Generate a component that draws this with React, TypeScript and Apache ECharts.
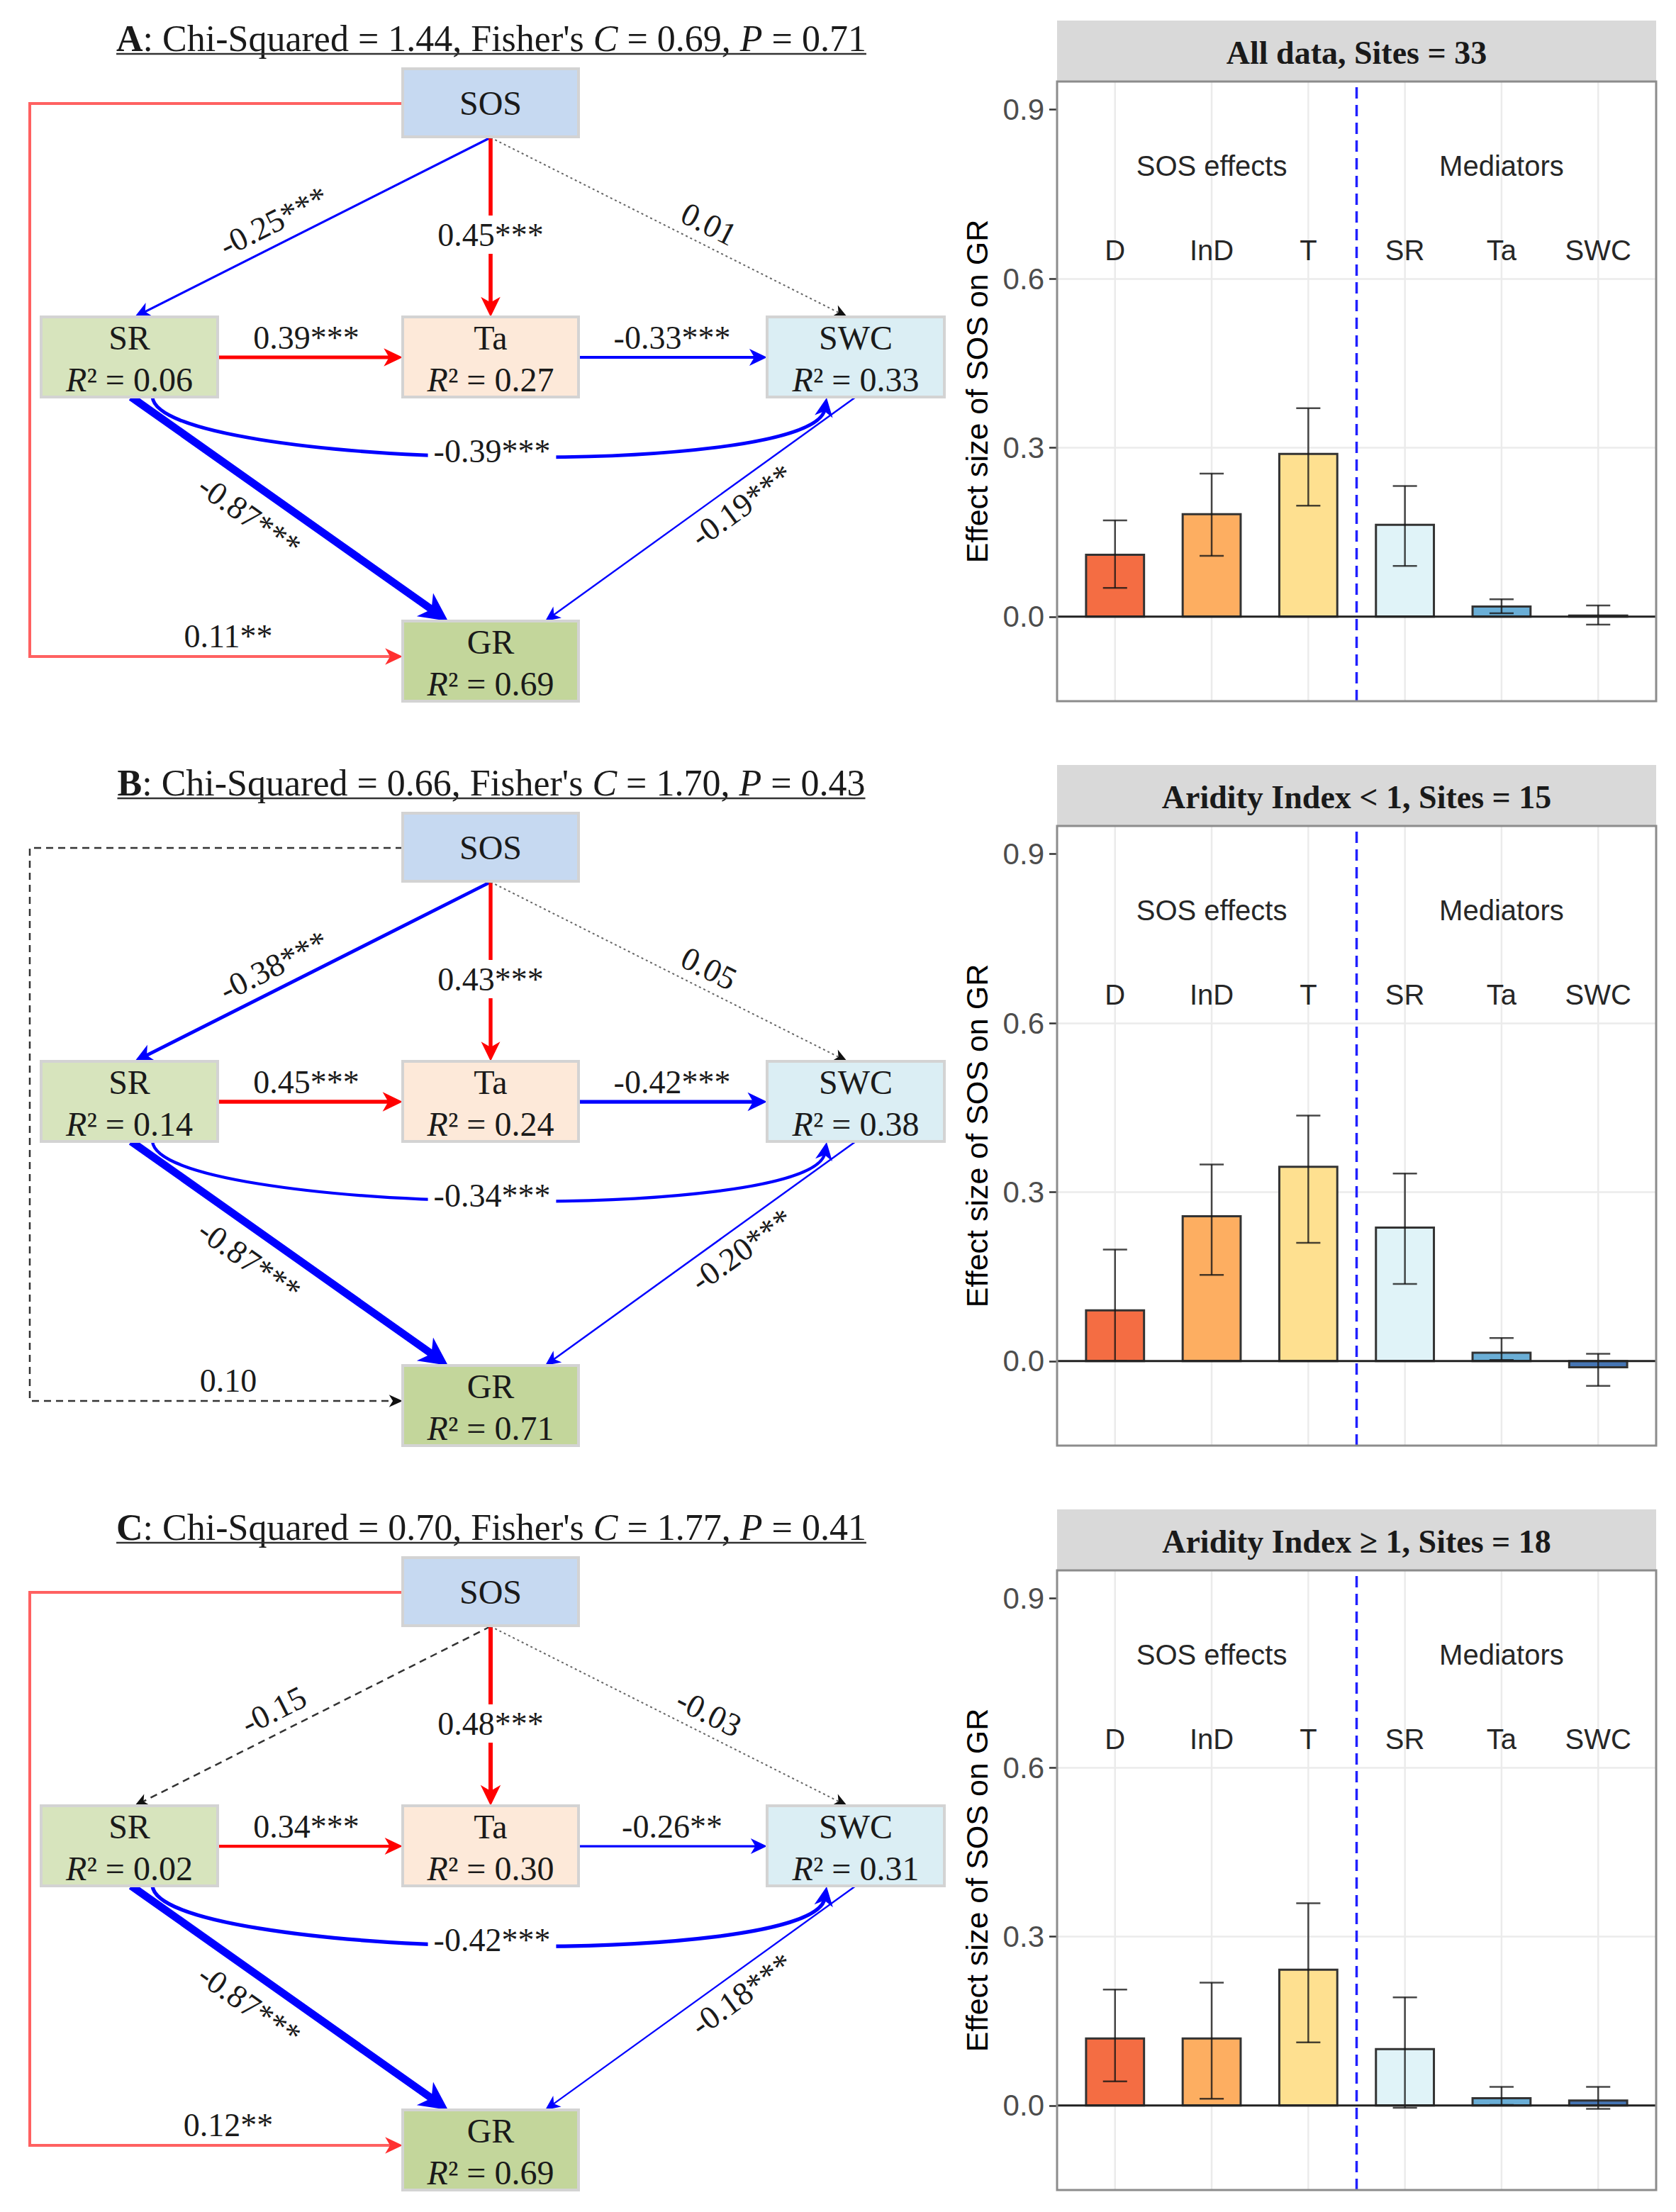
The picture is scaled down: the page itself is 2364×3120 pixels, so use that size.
import React, { useEffect, useRef } from "react";
import * as echarts from "echarts";

// ---------------- Data ----------------
const panelLetters = ["A", "B", "C"];
const chiSquared = ["1.44", "0.66", "0.70"];
const fisherC = ["0.69", "1.70", "1.77"];
const pValues = ["0.71", "0.43", "0.41"];

const r2SR = ["0.06", "0.14", "0.02"];
const r2Ta = ["0.27", "0.24", "0.30"];
const r2SWC = ["0.33", "0.38", "0.31"];
const r2GR = ["0.69", "0.71", "0.69"];

const pathKeys = ["SOS-SR", "SOS-Ta", "SOS-SWC", "SR-Ta", "Ta-SWC", "SR-SWC", "SR-GR", "SWC-GR", "SOS-GR"];
const coefAll = [-0.25, 0.45, 0.01, 0.39, -0.33, -0.39, -0.87, -0.19, 0.11];
const sigAll = ["***", "***", "", "***", "***", "***", "***", "***", "**"];
const coefArid = [-0.38, 0.43, 0.05, 0.45, -0.42, -0.34, -0.87, -0.2, 0.1];
const sigArid = ["***", "***", "", "***", "***", "***", "***", "***", ""];
const coefHumid = [-0.15, 0.48, -0.03, 0.34, -0.26, -0.42, -0.87, -0.18, 0.12];
const sigHumid = ["", "***", "", "***", "**", "***", "***", "***", "**"];

const stripTitles = ["All data, Sites = 33", "Aridity Index < 1, Sites = 15", "Aridity Index \u2265 1, Sites = 18"];
const effectCategories = ["D", "InD", "T", "SR", "Ta", "SWC"];
const sosEffectCount = 3;
const groupLabels = ["SOS effects", "Mediators"];
const yTicks = [0, 0.3, 0.6, 0.9];

const effectAll = [0.11, 0.182, 0.289, 0.163, 0.018, 0.002];
const lowerAll = [0.051, 0.108, 0.197, 0.09, 0.006, -0.014];
const upperAll = [0.171, 0.254, 0.37, 0.232, 0.031, 0.02];

const effectArid = [0.09, 0.257, 0.345, 0.237, 0.015, -0.011];
const lowerArid = [0.0, 0.153, 0.21, 0.137, 0.002, -0.044];
const upperArid = [0.198, 0.349, 0.436, 0.333, 0.041, 0.013];

const effectHumid = [0.119, 0.119, 0.241, 0.1, 0.013, 0.009];
const lowerHumid = [0.043, 0.012, 0.112, -0.004, 0.001, -0.006];
const upperHumid = [0.206, 0.218, 0.359, 0.192, 0.033, 0.033];

// ---------------- Layout / style ----------------
const W = 2364;
const H = 3120;
const STEP = 1050;
const SERIF = "'Liberation Serif', 'Times New Roman', serif";
const SANS = "'Liberation Sans', Arial, sans-serif";
const TXT = "#1a1a1a";
const barColors = ["#F46D43", "#FDAE61", "#FEE090", "#E0F3F8", "#6AAED6", "#4575B4"];

const GRID_LEFT = 1491;
const GRID_W = 845;
const GRID_TOP = 115;
const GRID_H = 874;
const Y_MIN = -0.15;
const Y_MAX = 0.95;
const X_MIN = 0.4;
const X_MAX = 6.6;

const nodeBox: Record<string, { x: number; y: number; w: number; h: number; fill: string }> = {
  SOS: { x: 568, y: 97, w: 248, h: 96, fill: "#C6D9F1" },
  SR: { x: 58, y: 447, w: 249, h: 113, fill: "#D7E4BD" },
  Ta: { x: 568, y: 447, w: 248, h: 113, fill: "#FDE9D9" },
  SWC: { x: 1082, y: 447, w: 250, h: 113, fill: "#DBEEF4" },
  GR: { x: 568, y: 876, w: 248, h: 113, fill: "#C3D69B" },
};

const pathGeom: Record<string, any> = {
  "SOS-SR": { kind: "line", pts: [[692, 194], [190, 447]], label: [386, 312], along: true },
  "SOS-Ta": { kind: "line", pts: [[692, 194], [692, 447]], label: [692, 331], bg: true },
  "SOS-SWC": { kind: "line", pts: [[692, 194], [1195, 447]], label: [1000, 316], along: true, dotted: true },
  "SR-Ta": { kind: "line", pts: [[307, 504], [568, 504]], label: [432, 476] },
  "Ta-SWC": { kind: "line", pts: [[816, 504], [1082, 504]], label: [948, 476] },
  "SR-SWC": { kind: "curve", pts: [[215, 560], [225, 662], [1150, 662], [1166, 561]], label: [694, 636], bg: true },
  "SR-GR": { kind: "line", pts: [[185, 560], [632, 876]], label: [352, 728], along: true },
  "SWC-GR": { kind: "line", pts: [[1207, 560], [769, 876]], label: [1046, 713], along: true },
  "SOS-GR": { kind: "elbow", pts: [[568, 146], [42, 146], [42, 926], [568, 926]], label: [322, 897], faded: true },
};

function measure(str: string, font: string): number {
  const c = document.createElement("canvas").getContext("2d");
  if (!c) return str.length * 20;
  c.font = font;
  return c.measureText(str).width;
}

function arrowHead(tip: number[], ux: number, uy: number, w: number, color: string, z: number) {
  const len = 16 + 2.2 * w;
  const hw = 7 + 1.2 * w;
  const px = -uy;
  const py = ux;
  const bx = tip[0] - ux * len;
  const by = tip[1] - uy * len;
  const nx = tip[0] - ux * len * 0.72;
  const ny = tip[1] - uy * len * 0.72;
  return {
    el: {
      type: "polygon",
      z,
      shape: { points: [[tip[0], tip[1]], [bx + px * hw, by + py * hw], [nx, ny], [bx - px * hw, by - py * hw]] },
      style: { fill: color },
    },
    back: len * 0.6,
  };
}

function diagramElements(k: number, coefs: number[], sigs: string[]) {
  const oy = STEP * k;
  const els: any[] = [];
  // title
  const tf = 52;
  const cx = 693;
  const ty = 54 + oy;
  const seg1 = `: Chi-Squared = ${chiSquared[k]}, Fisher's `;
  const seg2 = ` = ${fisherC[k]}, `;
  const seg3 = ` = ${pValues[k]}`;
  const tw =
    measure(panelLetters[k], `bold ${tf}px ${SERIF}`) +
    measure(seg1, `${tf}px ${SERIF}`) +
    measure("C", `italic ${tf}px ${SERIF}`) +
    measure(seg2, `${tf}px ${SERIF}`) +
    measure("P", `italic ${tf}px ${SERIF}`) +
    measure(seg3, `${tf}px ${SERIF}`);
  els.push({
    type: "text",
    x: cx,
    y: ty,
    z: 30,
    style: {
      text: `{b|${panelLetters[k]}}${seg1}{i|C}${seg2}{i|P}${seg3}`,
      fontSize: tf,
      fontFamily: SERIF,
      fill: TXT,
      align: "center",
      verticalAlign: "middle",
      rich: {
        b: { fontWeight: "bold", fontSize: tf, fontFamily: SERIF, fill: TXT },
        i: { fontStyle: "italic", fontSize: tf, fontFamily: SERIF, fill: TXT },
      },
    },
  });
  els.push({
    type: "line",
    z: 30,
    shape: { x1: cx - tw / 2, y1: ty + 22, x2: cx + tw / 2, y2: ty + 22 },
    style: { stroke: "#333", lineWidth: 2.5 },
  });

  // paths
  pathKeys.forEach((key, i) => {
    const g = pathGeom[key];
    const c = coefs[i];
    const sig = sigs[i] !== "";
    let color = c > 0 ? "#FF0000" : "#0000FF";
    let headColor = color;
    let width = Math.max(2.2, 12.5 * Math.abs(c));
    let dash: any = null;
    if (g.dotted) {
      color = "#666";
      headColor = "#111";
      width = 2;
      dash = [3, 4];
    } else if (!sig) {
      color = "#333";
      headColor = "#111";
      width = 2.5;
      dash = [10, 7];
    } else if (g.faded) {
      color = c > 0 ? "rgba(255,0,0,0.62)" : "rgba(0,0,255,0.62)";
      headColor = c > 0 ? "#FF3030" : "#3030FF";
      width = Math.max(4, width);
    }
    const pts = g.pts.map((p: number[]) => [p[0], p[1] + oy]);
    const last = pts[pts.length - 1];
    const prev = pts[pts.length - 2];
    let dx = last[0] - prev[0];
    let dy = last[1] - prev[1];
    const dl = Math.hypot(dx, dy);
    dx /= dl;
    dy /= dl;
    const head = arrowHead(last, dx, dy, g.dotted || !sig ? 1.5 : width, headColor, 12);
    const endX = last[0] - dx * head.back;
    const endY = last[1] - dy * head.back;
    const style: any = { stroke: color, lineWidth: width, fill: "none" };
    if (dash) style.lineDash = dash;
    if (g.kind === "line") {
      els.push({ type: "line", z: 10, shape: { x1: pts[0][0], y1: pts[0][1], x2: endX, y2: endY }, style });
    } else if (g.kind === "curve") {
      els.push({
        type: "bezierCurve",
        z: 10,
        shape: {
          x1: pts[0][0],
          y1: pts[0][1],
          cpx1: pts[1][0],
          cpy1: pts[1][1],
          cpx2: pts[2][0] - dx * head.back,
          cpy2: pts[2][1] - dy * head.back,
          x2: endX,
          y2: endY,
        },
        style,
      });
    } else {
      const poly = pts.slice(0, -1).concat([[endX, endY]]);
      els.push({ type: "polyline", z: 10, shape: { points: poly }, style });
    }
    els.push(head.el);

    // label
    let rot = 0;
    if (g.along) {
      const a = g.pts[0];
      const b = g.pts[g.pts.length - 1];
      rot = Math.atan2(-(b[1] - a[1]), b[0] - a[0]);
      if (rot > Math.PI / 2) rot -= Math.PI;
      if (rot < -Math.PI / 2) rot += Math.PI;
    }
    const lstyle: any = {
      text: `${c.toFixed(2)}${sigs[i]}`,
      fontSize: 46,
      fontFamily: SERIF,
      fill: TXT,
      align: "center",
      verticalAlign: "middle",
    };
    if (g.bg) {
      lstyle.backgroundColor = "#ffffff";
      lstyle.padding = [4, 8];
    }
    els.push({ type: "text", z: 20, x: g.label[0], y: g.label[1] + oy, rotation: rot, style: lstyle });
  });

  // nodes
  const r2: Record<string, string> = { SR: r2SR[k], Ta: r2Ta[k], SWC: r2SWC[k], GR: r2GR[k] };
  Object.keys(nodeBox).forEach((name) => {
    const b = nodeBox[name];
    els.push({
      type: "rect",
      z: 25,
      shape: { x: b.x, y: b.y + oy, width: b.w, height: b.h },
      style: { fill: b.fill, stroke: "#D3D3D3", lineWidth: 4 },
    });
    const mx = b.x + b.w / 2;
    if (name === "SOS") {
      els.push({
        type: "text",
        z: 26,
        x: mx,
        y: b.y + b.h / 2 + oy,
        style: { text: name, fontSize: 48, fontFamily: SERIF, fill: TXT, align: "center", verticalAlign: "middle" },
      });
    } else {
      els.push({
        type: "text",
        z: 26,
        x: mx,
        y: b.y + 29 + oy,
        style: { text: name, fontSize: 48, fontFamily: SERIF, fill: TXT, align: "center", verticalAlign: "middle" },
      });
      els.push({
        type: "text",
        z: 26,
        x: mx,
        y: b.y + 88 + oy,
        style: {
          text: `{i|R}\u00B2 = ${r2[name]}`,
          fontSize: 48,
          fontFamily: SERIF,
          fill: TXT,
          align: "center",
          verticalAlign: "middle",
          rich: { i: { fontStyle: "italic", fontSize: 48, fontFamily: SERIF, fill: TXT } },
        },
      });
    }
  });
  return els;
}

function stripElements(k: number) {
  const oy = STEP * k;
  return [
    {
      type: "rect",
      z: 30,
      shape: { x: GRID_LEFT, y: 29 + oy, width: GRID_W, height: GRID_TOP - 29 },
      style: { fill: "#D9D9D9" },
    },
    {
      type: "text",
      z: 31,
      x: GRID_LEFT + GRID_W / 2,
      y: 74 + oy,
      style: {
        text: stripTitles[k],
        fontSize: 46,
        fontWeight: "bold",
        fontFamily: SERIF,
        fill: TXT,
        align: "center",
        verticalAlign: "middle",
      },
    },
    {
      type: "rect",
      z: 40,
      shape: { x: GRID_LEFT, y: GRID_TOP + oy, width: GRID_W, height: GRID_H },
      style: { fill: "none", stroke: "#8C8C8C", lineWidth: 3 },
    },
  ];
}

function buildOption() {
  const effects = [effectAll, effectArid, effectHumid];
  const lowers = [lowerAll, lowerArid, lowerHumid];
  const uppers = [upperAll, upperArid, upperHumid];
  const coefs = [coefAll, coefArid, coefHumid];
  const sigs = [sigAll, sigArid, sigHumid];

  const grid: any[] = [];
  const xAxis: any[] = [];
  const yAxis: any[] = [];
  const series: any[] = [];
  let graphics: any[] = [];

  for (let k = 0; k < 3; k++) {
    grid.push({ left: GRID_LEFT, top: GRID_TOP + STEP * k, width: GRID_W, height: GRID_H, containLabel: false });
    xAxis.push({ type: "value", gridIndex: k, min: X_MIN, max: X_MAX, show: false });
    yAxis.push({
      type: "value",
      gridIndex: k,
      min: Y_MIN,
      max: Y_MAX,
      interval: 0.15,
      axisLine: { show: false },
      axisTick: { show: true, length: 11, lineStyle: { color: "#333", width: 2.5 }, customValues: yTicks },
      axisLabel: {
        customValues: yTicks,
        formatter: (v: number) => (yTicks.some((t) => Math.abs(t - v) < 1e-6) ? v.toFixed(1) : ""),
        fontSize: 42,
        color: "#4D4D4D",
        fontFamily: SANS,
        margin: 18,
      },
      splitLine: { show: true, showMinLine: false, showMaxLine: false, lineStyle: { color: "#EBEBEB", width: 2.5 } },
      name: "Effect size of SOS on GR",
      nameLocation: "middle",
      nameRotate: 90,
      nameGap: 92,
      nameTextStyle: { fontSize: 43, color: "#000", fontFamily: SANS },
    });

    // vertical grid lines at categories
    series.push({
      type: "custom",
      xAxisIndex: k,
      yAxisIndex: k,
      z: 1,
      silent: true,
      data: effectCategories.map((_, i) => [i + 1, 0]),
      encode: { x: 0, y: 1 },
      renderItem: (params: any, api: any) => {
        const x = api.value(0);
        const a = api.coord([x, Y_MIN]);
        const b = api.coord([x, Y_MAX]);
        return { type: "line", shape: { x1: a[0], y1: a[1], x2: b[0], y2: b[1] }, style: { stroke: "#EBEBEB", lineWidth: 2.5 } };
      },
    });

    // bars with error bars
    const eff = effects[k];
    const lo = lowers[k];
    const hi = uppers[k];
    series.push({
      type: "custom",
      xAxisIndex: k,
      yAxisIndex: k,
      z: 3,
      silent: true,
      data: effectCategories.map((_, i) => [i + 1, eff[i], lo[i], hi[i]]),
      encode: { x: 0, y: [1, 2, 3] },
      renderItem: (params: any, api: any) => {
        const x = api.value(0);
        const v = api.value(1);
        const l = api.value(2);
        const h = api.value(3);
        const p0 = api.coord([x - 0.3, 0]);
        const p1 = api.coord([x + 0.3, v]);
        const c = api.coord([x, l]);
        const d = api.coord([x, h]);
        const cl = api.coord([x - 0.125, 0])[0];
        const cr = api.coord([x + 0.125, 0])[0];
        const es = { stroke: "rgba(20,20,20,0.78)", lineWidth: 2.5 };
        return {
          type: "group",
          children: [
            {
              type: "rect",
              shape: { x: p0[0], y: Math.min(p0[1], p1[1]), width: p1[0] - p0[0], height: Math.abs(p0[1] - p1[1]) },
              style: { fill: barColors[params.dataIndex], stroke: "#333", lineWidth: 3 },
            },
            { type: "line", shape: { x1: c[0], y1: c[1], x2: d[0], y2: d[1] }, style: es },
            { type: "line", shape: { x1: cl, y1: d[1], x2: cr, y2: d[1] }, style: es },
            { type: "line", shape: { x1: cl, y1: c[1], x2: cr, y2: c[1] }, style: es },
          ],
        };
      },
    });

    // reference lines: zero line and divider between SOS effects and mediators
    series.push({
      type: "custom",
      xAxisIndex: k,
      yAxisIndex: k,
      z: 4,
      silent: true,
      data: [[sosEffectCount + 0.5, 0]],
      encode: { x: 0, y: 1 },
      renderItem: (params: any, api: any) => {
        const xv = api.value(0);
        const yv = api.value(1);
        const a = api.coord([X_MIN, yv]);
        const b = api.coord([X_MAX, yv]);
        const c = api.coord([xv, Y_MIN]);
        const d = api.coord([xv, Y_MAX]);
        return {
          type: "group",
          children: [
            { type: "line", shape: { x1: a[0], y1: a[1], x2: b[0], y2: b[1] }, style: { stroke: "#222", lineWidth: 3 } },
            {
              type: "line",
              shape: { x1: c[0], y1: c[1], x2: d[0], y2: d[1] },
              style: { stroke: "#2020FF", lineWidth: 3.5, lineDash: [16, 9] },
            },
          ],
        };
      },
    });

    // annotation texts
    const labelItems: any[] = [];
    const labelTexts: string[] = [];
    labelItems.push([2, 0.8]);
    labelTexts.push(groupLabels[0]);
    labelItems.push([5, 0.8]);
    labelTexts.push(groupLabels[1]);
    effectCategories.forEach((c, i) => {
      labelItems.push([i + 1, 0.65]);
      labelTexts.push(c);
    });
    series.push({
      type: "custom",
      xAxisIndex: k,
      yAxisIndex: k,
      z: 5,
      silent: true,
      data: labelItems,
      encode: { x: 0, y: 1 },
      renderItem: (params: any, api: any) => {
        const p = api.coord([api.value(0), api.value(1)]);
        return {
          type: "text",
          x: p[0],
          y: p[1],
          style: {
            text: labelTexts[params.dataIndex],
            fontSize: 40,
            fontFamily: SANS,
            fill: "#262626",
            align: "center",
            verticalAlign: "middle",
          },
        };
      },
    });

    graphics = graphics.concat(diagramElements(k, coefs[k], sigs[k]), stripElements(k));
  }

  return {
    animation: false,
    backgroundColor: "#ffffff",
    grid,
    xAxis,
    yAxis,
    series,
    graphic: { elements: graphics },
  };
}

export default function App() {
  const ref = useRef<HTMLDivElement>(null);
  useEffect(() => {
    if (!ref.current) return;
    const chart = echarts.init(ref.current, null, { renderer: "svg" });
    chart.setOption(buildOption() as any);
    return () => chart.dispose();
  }, []);
  return <div ref={ref} style={{ position: "absolute", left: 0, top: 0, width: W, height: H }} />;
}
